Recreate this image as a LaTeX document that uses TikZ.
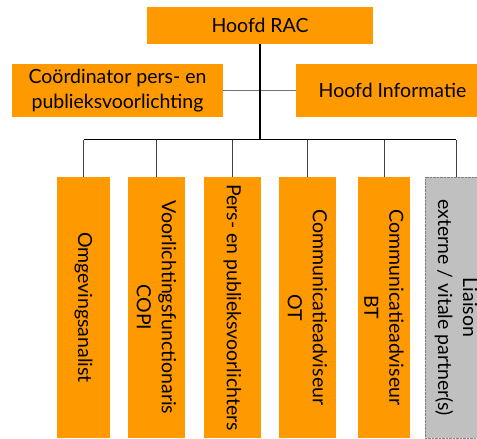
\documentclass[tikz,border=0pt]{standalone}
\usepackage{fontspec}
\setmainfont{Lato}
\usetikzlibrary{positioning}
\definecolor{rijkoranje}{RGB}{255,153,0}
\definecolor{liaisongrijs}{RGB}{192,192,192}

\begin{document}
\begin{tikzpicture}[x=1pt,y=-1pt,
  orgbox/.style={fill=rijkoranje,inner sep=0pt,align=center,font=\fontsize{19.5}{25}\selectfont},
  colbox/.style={orgbox,rotate=-90,minimum width=261pt},
  trunk/.style={line width=1.6pt},
  twig/.style={line width=0.9pt,draw=black!75}]
\useasboundingbox (0,0) rectangle (477,439);

\coordinate (bus) at (260,139.5);

\node[orgbox,minimum width=226pt,minimum height=37pt] (rac) at (260,25.5) {Hoofd RAC};
\node[orgbox,minimum width=211pt,minimum height=53pt] (coord) at (117.5,90.5) {Coördinator pers- en\\publieksvoorlichting};
\node[orgbox,minimum width=193pt,minimum height=53pt] (info) at (392.5,90.5) {Hoofd Informatie};

\node[colbox,minimum height=53pt] (c1) at (83.5,307.5) {Omgevingsanalist};
\node[colbox,minimum height=57pt] (c2) at (156.5,307.5) {Voorlichtingsfunctionaris\\COPI};
\node[colbox,minimum height=57pt] (c3) at (232.5,307.5) {Pers- en publieksvoorlichters};
\node[colbox,minimum height=57pt] (c4) at (307.5,307.5) {Communicatieadviseur\\OT};
\node[colbox,minimum height=52pt] (c5) at (384,307.5) {Communicatieadviseur\\BT};
\node[colbox,fill=liaisongrijs,draw=black!50,densely dotted,minimum height=62pt] (c6) at (456,307.5) {Liaison\\externe / vitale partner(s)};

\draw[twig,draw=black!55] (coord.east) -- (info.west);
\draw[trunk] (rac.south) -- (bus);
\draw[trunk,line width=1.2pt] (c1.west |- bus) -- (c6.west |- bus);
\foreach \n in {c1,c2,c3,c4,c5,c6} {
\draw[twig] (\n.west) -- (\n.west |- bus);
};
\end{tikzpicture}
\end{document}
